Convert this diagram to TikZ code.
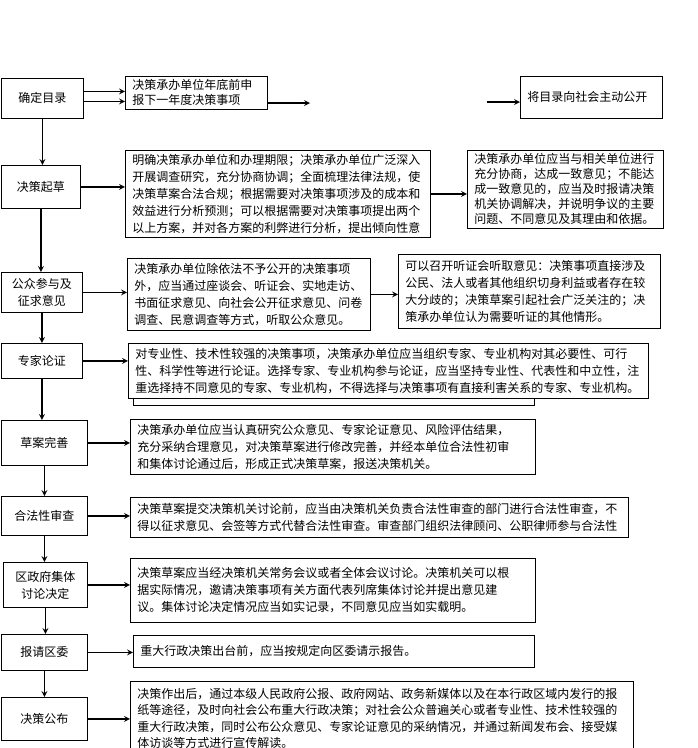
\documentclass[tikz,border=0pt]{standalone}
\usepackage{fontspec}
\newfontfamily\cjk{Noto Sans CJK SC}
\tikzset{
    lbox/.style = {draw, line width = 0.8pt, anchor = north west, inner sep = 0pt,
                   align = center, font = \cjk\fontsize{12}{17}\selectfont},
    tbox/.style = {draw, fill = white, line width = 0.8pt, anchor = north west,
                   inner xsep = 7pt, inner ysep = 3pt, align = left,
                   font = \cjk\fontsize{12}{17}\selectfont},
    link/.style = {line width = 1.6pt, ->, >=stealth}
}

\begin{document}
\begin{tikzpicture}[x = 1pt, y = -1pt]
    \useasboundingbox (0,0) rectangle (698,748);

    \node[lbox, minimum width = 82pt, minimum height = 40pt] (mulu) at (1,78) {确定目录};
    \node[lbox, minimum width = 79pt, minimum height = 43pt] (qicao) at (1,165) {决策起草};
    \node[lbox, minimum width = 81pt, minimum height = 40pt] (gongzhong) at (1,272) {公众参与及\\征求意见};
    \node[lbox, minimum width = 81pt, minimum height = 35pt] (zhuanjia) at (1,343) {专家论证};
    \node[lbox, minimum width = 86pt, minimum height = 45pt] (wanshan) at (1,420) {草案完善};
    \node[lbox, minimum width = 86pt, minimum height = 39pt] (hefa) at (1,496) {合法性审查};
    \node[lbox, minimum width = 84pt, minimum height = 45pt] (jueding) at (3,562) {区政府集体\\讨论决定};
    \node[lbox, minimum width = 86pt, minimum height = 36pt] (baoqing) at (1,634) {报请区委};
    \node[lbox, minimum width = 86pt, minimum height = 43pt] (gongbu) at (1,697) {决策公布};

    \node[tbox, text width = 128pt, minimum width = 142pt, minimum height = 33pt,
          font = \cjk\fontsize{12}{15}\selectfont] (shenbao) at (125,76)
        {决策承办单位年底前申\\报下一年度决策事项};
    \node[tbox, text width = 128pt, minimum width = 142pt, minimum height = 42pt] (gongkai) at (520,76)
        {将目录向社会主动公开};
    \node[tbox, text width = 291pt, minimum width = 305pt, minimum height = 87pt] (mingque) at (125,150)
        {明确决策承办单位和办理期限；决策承办单位广泛深入\\开展调查研究，充分协商协调；全面梳理法律法规，使\\决策草案合法合规；根据需要对决策事项涉及的成本和\\效益进行分析预测；可以根据需要对决策事项提出两个\\以上方案，并对各方案的利弊进行分析，提出倾向性意};
    \node[tbox, text width = 182pt, minimum width = 196pt, minimum height = 78pt,
          font = \cjk\fontsize{12}{15}\selectfont] (xieshang) at (467,150)
        {决策承办单位应当与相关单位进行\\充分协商，达成一致意见；不能达\\成一致意见的，应当及时报请决策\\机关协调解决，并说明争议的主要\\问题、不同意见及其理由和依据。};
    \node[tbox, text width = 229pt, minimum width = 243pt, minimum height = 72pt] (zhengqiu) at (127,258)
        {决策承办单位除依法不予公开的决策事项\\外，应当通过座谈会、听证会、实地走访、\\书面征求意见、向社会公开征求意见、问卷\\调查、民意调查等方式，听取公众意见。};
    \node[tbox, text width = 248pt, minimum width = 262pt, minimum height = 74pt] (tingzheng) at (398,254)
        {可以召开听证会听取意见：决策事项直接涉及\\公民、法人或者其他组织切身利益或者存在较\\大分歧的；决策草案引起社会广泛关注的；决\\策承办单位认为需要听证的其他情形。};
    \draw[line width = 0.8pt] (133,343) rectangle (534,405);
    \node[tbox, text width = 506pt, minimum width = 520pt, minimum height = 55pt] (lunzheng) at (128,343)
        {对专业性、技术性较强的决策事项，决策承办单位应当组织专家、专业机构对其必要性、可行\\性、科学性等进行论证。选择专家、专业机构参与论证，应当坚持专业性、代表性和中立性，注\\重选择持不同意见的专家、专业机构，不得选择与决策事项有直接利害关系的专家、专业机构。};
    \node[tbox, text width = 391pt, minimum width = 405pt, minimum height = 55pt] (xiugai) at (130,419)
        {决策承办单位应当认真研究公众意见、专家论证意见、风险评估结果，\\充分采纳合理意见，对决策草案进行修改完善，并经本单位合法性初审\\和集体讨论通过后，形成正式决策草案，报送决策机关。};
    \node[tbox, text width = 484pt, minimum width = 498pt, minimum height = 40pt] (shencha) at (130,497)
        {决策草案提交决策机关讨论前，应当由决策机关负责合法性审查的部门进行合法性审查，不\\得以征求意见、会签等方式代替合法性审查。审查部门组织法律顾问、公职律师参与合法性};
    \node[tbox, text width = 391pt, minimum width = 405pt, minimum height = 64pt] (taolun) at (130,558)
        {决策草案应当经决策机关常务会议或者全体会议讨论。决策机关可以根\\据实际情况，邀请决策事项有关方面代表列席集体讨论并提出意见建\\议。集体讨论决定情况应当如实记录，不同意见应当如实载明。};
    \node[tbox, text width = 387pt, minimum width = 401pt, minimum height = 32pt] (qingshi) at (133,635)
        {重大行政决策出台前，应当按规定向区委请示报告。};
    \node[tbox, text width = 489pt, minimum width = 503pt, minimum height = 74pt,
          font = \cjk\fontsize{12}{16.5}\selectfont] (xuanchuan) at (130,681)
        {决策作出后，通过本级人民政府公报、政府网站、政务新媒体以及在本行政区域内发行的报\\纸等途径，及时向社会公布重大行政决策；对社会公众普遍关心或者专业性、技术性较强的\\重大行政决策，同时公布公众意见、专家论证意见的采纳情况，并通过新闻发布会、接受媒\\体访谈等方式进行宣传解读。};

    \coordinate (g1) at (310,103);
    \coordinate (g2) at (487,102);

    \draw[link] ([yshift = 7pt]mulu.east) -- ([yshift = 7pt]mulu.east -| shenbao.west);
    \draw[link] ([yshift = -3pt]mulu.east) -- ([yshift = -3pt]mulu.east -| shenbao.west);
    \draw[link] (shenbao.east |- g1) -- (g1);
    \draw[link] (g2) -- (g2 -| gongkai.west);
    \draw[link] (qicao.east) -- (qicao.east -| mingque.west);
    \draw[link] (mingque.east) -- (mingque.east -| xieshang.west);
    \draw[link] (gongzhong.east) -- (gongzhong.east -| zhengqiu.west);
    \draw[link] (zhengqiu.east) -- (zhengqiu.east -| tingzheng.west);
    \draw[link] (zhuanjia.east) -- (zhuanjia.east -| lunzheng.west);
    \draw[link] (wanshan.east) -- (wanshan.east -| xiugai.west);
    \draw[link] (hefa.east) -- (hefa.east -| shencha.west);
    \draw[link] (jueding.east) -- (jueding.east -| taolun.west);
    \draw[link] (baoqing.east) -- (baoqing.east -| qingshi.west);
    \draw[link] (gongbu.east) -- (gongbu.east -| xuanchuan.west);

    \draw[link] (mulu.south) -- (mulu.south |- qicao.north);
    \draw[link] (qicao.south) -- (qicao.south |- gongzhong.north);
    \draw[link] (gongzhong.south) -- (gongzhong.south |- zhuanjia.north);
    \draw[link] (zhuanjia.south) -- (zhuanjia.south |- wanshan.north);
    \draw[link] (wanshan.south) -- (wanshan.south |- hefa.north);
    \draw[link] (hefa.south) -- (hefa.south |- jueding.north);
    \draw[link] (jueding.south) -- (jueding.south |- baoqing.north);
    \draw[link] (baoqing.south) -- (baoqing.south |- gongbu.north);
\end{tikzpicture}
\end{document}
